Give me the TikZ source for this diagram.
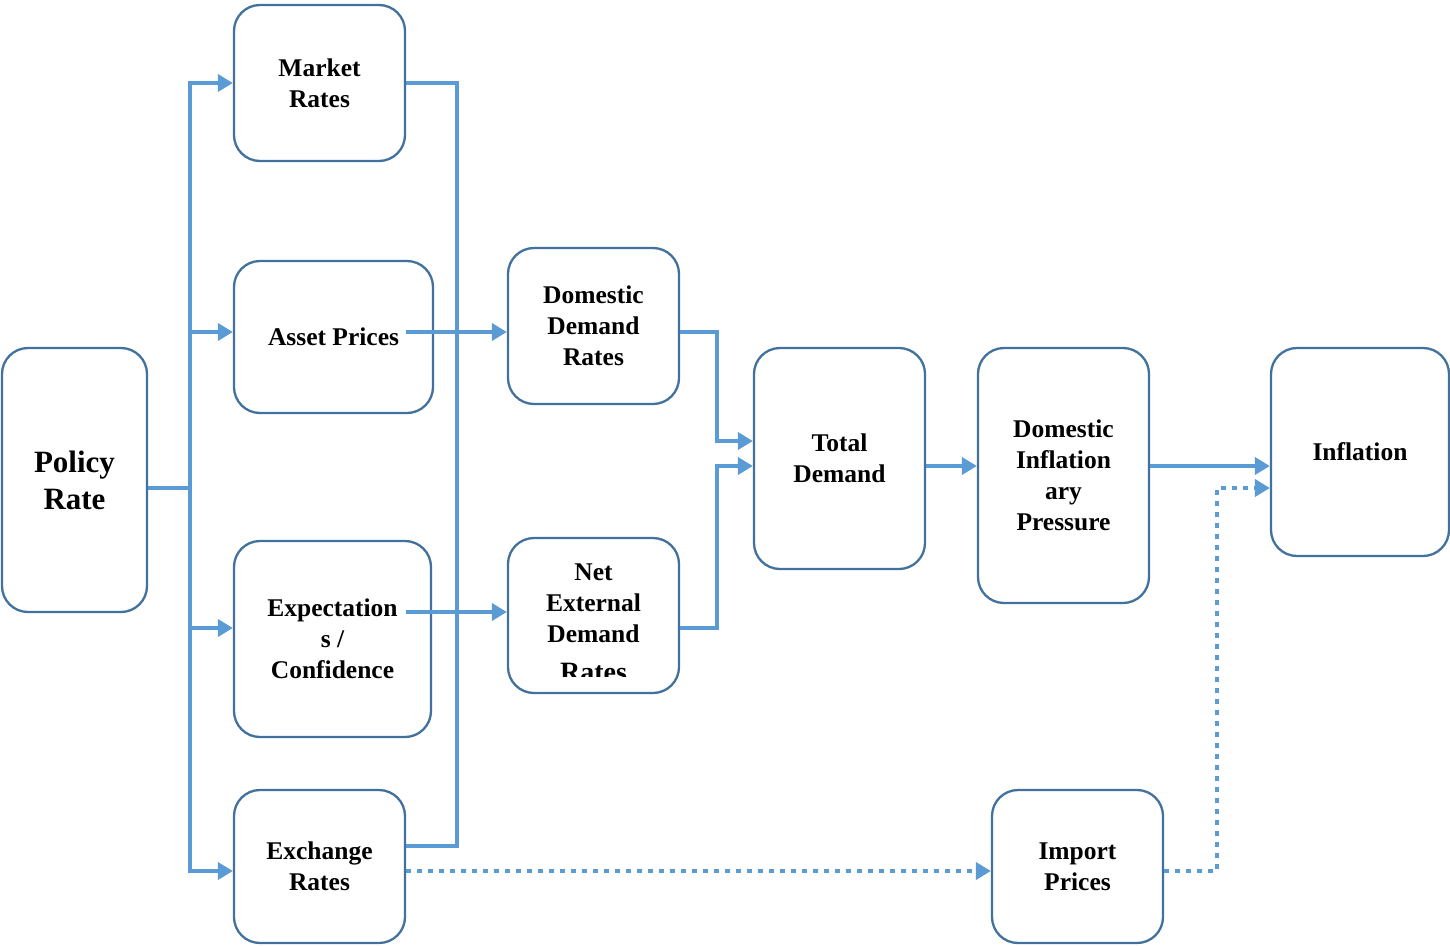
\documentclass[tikz,border=0pt]{standalone}
\usepackage{fontspec}
\setmainfont{Liberation Serif}
\usetikzlibrary{arrows.meta}
\definecolor{conn}{HTML}{5B9BD5}
\definecolor{bord}{HTML}{41719C}
\tikzset{
  box/.style={draw=bord, line width=2.3pt, rounded corners=26pt, rectangle, align=center, inner sep=0pt,
    font=\fontsize{25.5}{31}\selectfont\bfseries},
  wire/.style={draw=conn, line width=4.5pt},
  arr/.style={wire, -{Triangle[length=15pt,width=17pt]}},
  dots/.style={draw=conn, line width=4.5pt, dash pattern=on 4.5pt off 6.5pt},
  dotarr/.style={dots, -{Triangle[length=15pt,width=17pt]}}
}
\begin{document}
\begin{tikzpicture}[x=1pt,y=-1pt]
\useasboundingbox (0,0) rectangle (1450,945);
% boxes
\node[box, minimum width=145pt, minimum height=264pt, font=\fontsize{31}{37}\selectfont\bfseries] (policy) at (74.5,480) {Policy\\Rate};
\node[box, minimum width=171pt, minimum height=156pt] (market) at (319.5,83) {Market\\Rates};
\node[box, minimum width=199pt, minimum height=152pt] (asset) at (333.5,337) {Asset Prices};
\node[box, minimum width=197pt, minimum height=196pt] (expect) at (332.5,639) {Expectation\\s /\\Confidence};
\node[box, minimum width=171pt, minimum height=153pt] (exchange) at (319.5,866.5) {Exchange\\Rates};
\node[box, minimum width=171pt, minimum height=156pt] (domdem) at (593.5,326) {Domestic\\Demand\\Rates};
\node[box, minimum width=171pt, minimum height=155pt] (netext) at (593.5,615.5) {};
\begin{scope}
\clip (500,530) rectangle (690,676);
\node[align=center, inner sep=0pt, font=\fontsize{25.5}{31}\selectfont\bfseries] (netexttext) at (593.5,603) {Net\\External\\Demand};
\node[inner sep=0pt, anchor=base, font=\fontsize{28}{31}\selectfont\bfseries] (ratestext) at (593.5,681) {Rates};
\end{scope}
\node[box, minimum width=171pt, minimum height=221pt] (total) at (839.5,458.5) {Total\\Demand};
\node[box, minimum width=171pt, minimum height=255pt] (dip) at (1063.5,475.5) {Domestic\\Inflation\\ary\\Pressure};
\node[box, minimum width=178pt, minimum height=208pt] (infl) at (1360,452) {Inflation};
\node[box, minimum width=171pt, minimum height=153pt] (import) at (1077.5,866.5) {Import\\Prices};
% left bus
\coordinate (lb) at (190,488);
\draw[wire] ([yshift=-8pt]policy.east) -- (lb);
\draw[wire] (190,83) -- (190,871);
\draw[arr] (lb) |- (market.west);
\draw[arr] (lb) |- ([yshift=5pt]asset.west);
\draw[arr] (lb) |- ([yshift=11pt]expect.west);
\draw[arr] (lb) |- ([yshift=-4.5pt]exchange.west);
% right bus
\coordinate (rb) at (457,846);
\draw[wire] (market.east) -| (rb) -- ([yshift=20.5pt]exchange.east);
% to demand boxes
\draw[arr] ([xshift=-28pt,yshift=5pt]asset.east) -- ([yshift=-6pt]domdem.west);
\draw[arr] ([xshift=-26pt,yshift=27pt]expect.east) -- ([yshift=3.5pt]netext.west);
% to total
\coordinate (td1) at (717,332);
\coordinate (td2) at (717,628);
\draw[arr] ([yshift=-6pt]domdem.east) -- (td1) |- ([yshift=17.5pt]total.west);
\draw[arr] ([yshift=-12.5pt]netext.east) -- (td2) |- ([yshift=-7.5pt]total.west);
\draw[arr] ([yshift=-7.5pt]total.east) -- ([yshift=-7.5pt]total.east -| dip.west);
\draw[arr] ([yshift=9.5pt]dip.east) -- ([yshift=9.5pt]dip.east -| infl.west);
% dotted import path
\draw[dotarr] ([yshift=-4.5pt]exchange.east) -- ([yshift=-4.5pt]import.west);
\coordinate (ib) at (1217,871);
\draw[dotarr] ([yshift=-4.5pt]import.east) -- (ib) |- ([yshift=-36pt]infl.west);
\end{tikzpicture}
\end{document}
